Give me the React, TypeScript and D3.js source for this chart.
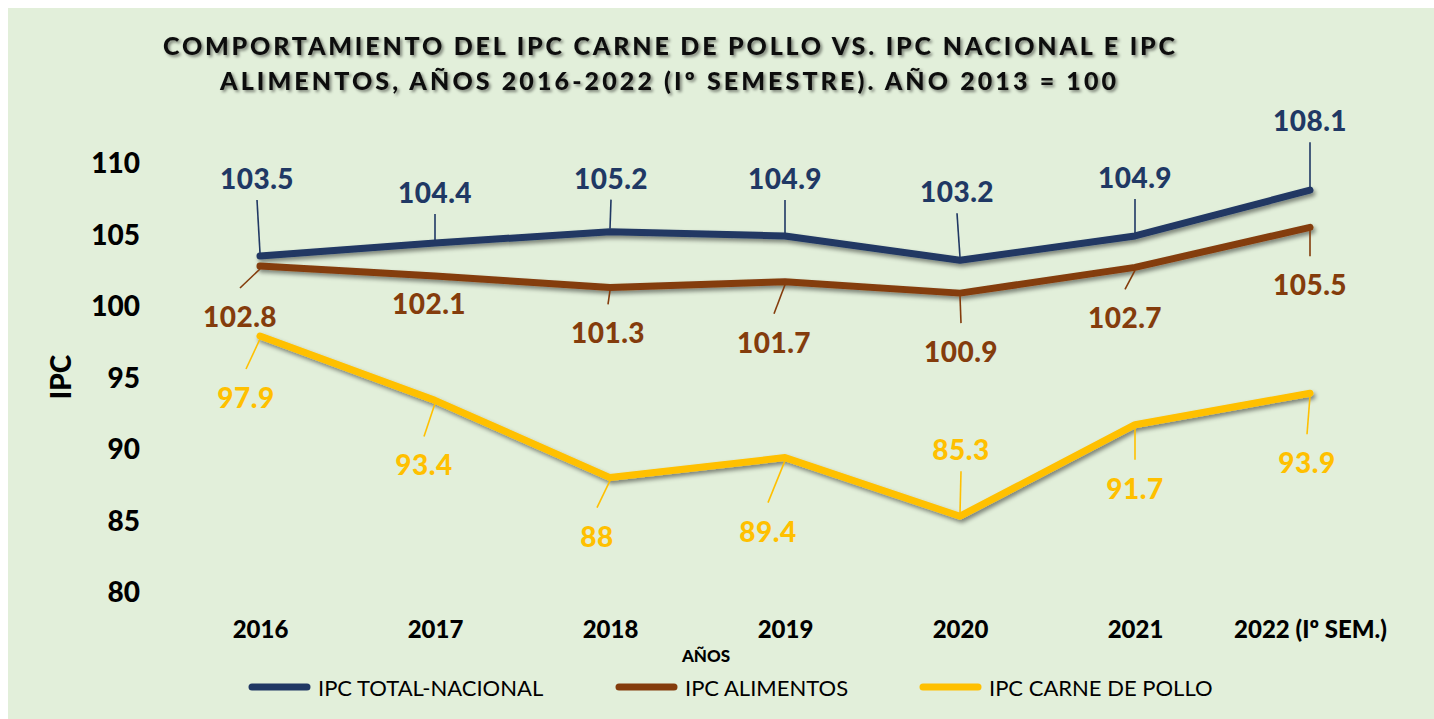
import React, { useEffect, useRef } from "react";
import * as d3 from "d3";

const years = ["2016", "2017", "2018", "2019", "2020", "2021", "2022 (Iº SEM.)"];
const yTicks = [80, 85, 90, 95, 100, 105, 110];

const ipcTotal = [103.5, 104.4, 105.2, 104.9, 103.2, 104.9, 108.1];
const ipcAlimentos = [102.8, 102.1, 101.3, 101.7, 100.9, 102.7, 105.5];
const ipcPollo = [97.9, 93.4, 88, 89.4, 85.3, 91.7, 93.9];

// label offsets (px from the point), placed by hand like in the original
const offTotal = [[-3, -78], [0, -51], [1, -54], [0, -58], [-3, -69], [0, -59], [0, -70]];
const offAlimentos = [[-20, 50], [-6, 27], [-2, 45], [-11, 60], [1, 58], [-10, 50], [0, 57]];
const offPollo = [[-14, 61], [-11, 64], [-13, 58], [-17, 73], [1, -67], [0, 63], [-3, 69]];

const titleLines = [
  "COMPORTAMIENTO DEL IPC CARNE DE POLLO VS. IPC NACIONAL E IPC",
  "ALIMENTOS, AÑOS 2016-2022 (Iº SEMESTRE). AÑO 2013 = 100",
];

const series = [
  { name: "IPC TOTAL-NACIONAL", values: ipcTotal, color: "#203864", offsets: offTotal },
  { name: "IPC ALIMENTOS", values: ipcAlimentos, color: "#843C0C", offsets: offAlimentos },
  { name: "IPC CARNE DE POLLO", values: ipcPollo, color: "#FFC000", offsets: offPollo },
];

const FONT = "Lato, 'Open Sans', sans-serif";

export default function App() {
  const svgRef = useRef<SVGSVGElement>(null);

  useEffect(() => {
    const width = 1434;
    const height = 719;
    const svg = d3.select(svgRef.current);
    svg.selectAll("*").remove();
    svg.attr("width", width).attr("height", height);

    svg.append("rect").attr("width", width).attr("height", height).attr("fill", "#fff");
    svg.append("rect").attr("x", 8).attr("y", 8).attr("width", width - 8).attr("height", height - 8).attr("fill", "#E2EFDA");

    const defs = svg.append("defs");
    defs.append("filter").attr("id", "lineShadow").attr("x", "-5%").attr("y", "-20%").attr("width", "110%").attr("height", "140%")
      .append("feDropShadow").attr("dx", 2).attr("dy", 3).attr("stdDeviation", 2)
      .attr("flood-color", "#000").attr("flood-opacity", 0.45);
    defs.append("filter").attr("id", "titleShadow")
      .append("feDropShadow").attr("dx", 2).attr("dy", 2).attr("stdDeviation", 1.5)
      .attr("flood-color", "#000").attr("flood-opacity", 0.45);

    const x = d3.scalePoint().domain(years).range([260, 1310]);
    const y = d3.scaleLinear().domain([80, 110]).range([592, 163]);

    // Title
    const titleX = [669, 668];
    const titleW = [1012, 896];
    titleLines.forEach((t, i) => {
      svg.append("text")
        .attr("x", titleX[i])
        .attr("y", 45 + i * 35)
        .attr("text-anchor", "middle")
        .attr("dominant-baseline", "central")
        .attr("font-family", FONT)
        .attr("font-weight", 900)
        .attr("font-size", 25)
        .attr("fill", "#111")
        .attr("textLength", titleW[i])
        .attr("lengthAdjust", "spacing")
        .attr("filter", "url(#titleShadow)")
        .text(t);
    });

    // Y axis labels
    const yAxis = svg.append("g").attr("transform", "translate(140,0)")
      .call(d3.axisLeft(y).tickValues(yTicks).tickSize(0).tickPadding(0));
    yAxis.select(".domain").remove();
    yAxis.selectAll("text")
      .attr("font-family", FONT)
      .attr("font-weight", 900)
      .attr("font-size", 28)
      .attr("fill", "#000")
      .attr("dy", "0.35em");

    svg.append("text")
      .attr("transform", "translate(60,377) rotate(-90)")
      .attr("text-anchor", "middle")
      .attr("dominant-baseline", "central")
      .attr("font-family", FONT)
      .attr("font-weight", 900)
      .attr("font-size", 28)
      .attr("fill", "#000")
      .text("IPC");

    // X axis labels
    const xAxis = svg.append("g").attr("transform", "translate(0,630)")
      .call(d3.axisBottom(x).tickSize(0).tickPadding(0));
    xAxis.select(".domain").remove();
    xAxis.selectAll("text")
      .attr("font-family", FONT)
      .attr("font-weight", 900)
      .attr("font-size", 24)
      .attr("fill", "#000")
      .attr("dy", "0.35em");

    svg.append("text")
      .attr("x", 706)
      .attr("y", 655)
      .attr("text-anchor", "middle")
      .attr("dominant-baseline", "central")
      .attr("font-family", FONT)
      .attr("font-weight", 900)
      .attr("font-size", 17)
      .attr("fill", "#000")
      .text("AÑOS");

    // Lines
    const line = d3.line<number>()
      .x((_, i) => x(years[i]) as number)
      .y((d) => y(d));

    series.forEach((s) => {
      svg.append("path")
        .datum(s.values)
        .attr("d", line)
        .attr("fill", "none")
        .attr("stroke", s.color)
        .attr("stroke-width", 7)
        .attr("stroke-linejoin", "round")
        .attr("stroke-linecap", "round")
        .attr("filter", "url(#lineShadow)");
    });

    // Leader lines + data labels
    series.forEach((s) => {
      const g = svg.append("g");
      s.values.forEach((v, i) => {
        const px = x(years[i]) as number;
        const py = y(v);
        const lx = px + s.offsets[i][0];
        const ly = py + s.offsets[i][1];
        const above = ly < py;
        const sy = above ? ly + 22 : ly - 28;
        const dist = Math.abs(py - sy);
        if (dist > 10) {
          const ey = above ? py - 3 : py + 3;
          g.append("line")
            .attr("x1", lx).attr("y1", sy)
            .attr("x2", px).attr("y2", ey)
            .attr("stroke", s.color)
            .attr("stroke-width", 1.6);
        }
        g.append("text")
          .attr("x", lx)
          .attr("y", ly)
          .attr("text-anchor", "middle")
          .attr("dominant-baseline", "central")
          .attr("font-family", FONT)
          .attr("font-weight", 900)
          .attr("font-size", 28)
          .attr("letter-spacing", 0.5)
          .attr("fill", s.color)
          .text(String(v));
      });
    });

    // Legend
    const legendX = [249, 616, 920];
    const legend = svg.append("g").attr("transform", "translate(0,687)");
    series.forEach((s, i) => {
      legend.append("line")
        .attr("x1", legendX[i] + 3).attr("x2", legendX[i] + 58)
        .attr("y1", 0).attr("y2", 0)
        .attr("stroke", s.color)
        .attr("stroke-width", 7)
        .attr("stroke-linecap", "round");
      legend.append("text")
        .attr("x", legendX[i] + 69)
        .attr("y", 0)
        .attr("dominant-baseline", "central")
        .attr("font-family", FONT)
        .attr("font-size", 22)
        .attr("fill", "#000")
        .text(s.name);
    });
  }, []);

  return (
    <div>
      <svg ref={svgRef} style={{ position: "absolute", left: 0, top: 0, display: "block" }}></svg>
    </div>
  );
}
